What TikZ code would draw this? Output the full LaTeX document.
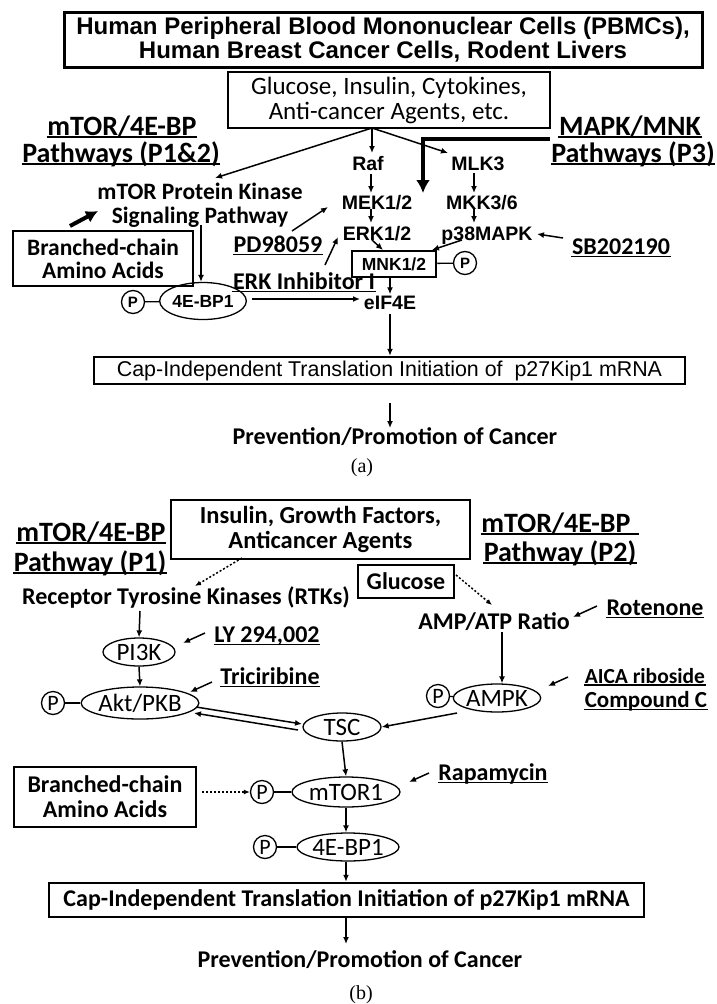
\documentclass[tikz,border=0pt]{standalone}
\usepackage{fontspec}
\usetikzlibrary{shapes.geometric,arrows.meta,calc}
\newfontfamily\arialf{Liberation Sans}
\newfontfamily\calf{Carlito}
\newfontfamily\serf{Liberation Serif}
\newcommand\ulnode[2][2]{\draw[line width=1.3pt] ([yshift=-#1pt]#2.base west) -- ([yshift=-#1pt]#2.base east);}
\begin{document}
\begin{tikzpicture}[x=1pt,y=-1pt,line width=1.5pt,
  arr/.style={-{Latex[length=7pt,width=6pt]}, line width=1.5pt},
  bigarr/.style={-{Latex[length=13pt,width=14pt]}, line width=3.5pt},
  dotarr/.style={-{Latex[length=6pt,width=5pt]}, line width=1.5pt, dash pattern=on 2pt off 2pt},
  AB/.style={inner sep=0, text height=14pt, text depth=0pt, font=\arialf\bfseries\fontsize{19.5}{22}\selectfont},
  CB/.style={inner sep=0, text height=15.5pt, text depth=0pt, font=\calf\bfseries\fontsize{24}{25}\selectfont},
  CT/.style={inner sep=0, text height=18pt, text depth=0pt, font=\calf\bfseries\fontsize{28}{29}\selectfont},
  box/.style={draw, line width=2.5pt, inner sep=0, align=center},
  pc/.style={circle, draw, line width=1.3pt, inner sep=0, minimum size=23pt, font=\arialf\bfseries\fontsize{15}{15}\selectfont},
  pcb/.style={circle, draw, line width=1.3pt, inner sep=0, minimum size=23pt, font=\calf\fontsize{22}{22}\selectfont},
  ellb/.style={ellipse, draw, line width=1.3pt, inner sep=0, font=\calf\fontsize{25}{25}\selectfont},
  lnk/.style={line width=1.3pt}
]
\fill[white] (0,0) rectangle (716,1004);
\useasboundingbox (0,0) rectangle (716,1004);

% ---------------- (a) ----------------
\node[box, line width=3pt, minimum width=638pt, minimum height=55pt, font=\arialf\bfseries\fontsize{24}{24}\selectfont] (top) at (383,40) {Human Peripheral Blood Mononuclear Cells (PBMCs),\\Human Breast Cancer Cells, Rodent Livers};
\node[box, line width=2pt, minimum width=322pt, minimum height=56pt, font=\calf\fontsize{25}{25}\selectfont] (glu) at (389,100) {Glucose, Insulin, Cytokines,\\Anti-cancer Agents, etc.};

\node[CT] (pa1) at (122,126) {mTOR/4E-BP};
\node[CT] (pa2) at (121,153) {Pathways (P1\&2)};
\node[CT] (pa3) at (630,126) {MAPK/MNK};
\node[CT] (pa4) at (633,153) {Pathways (P3)};
\ulnode{pa1}\ulnode{pa2}\ulnode{pa3}\ulnode{pa4}

\node[font=\calf\bfseries\fontsize{23.5}{24}\selectfont, align=center, inner sep=0] (mtor) at (200,205) {mTOR Protein Kinase\\Signaling Pathway};
\node[box, minimum width=180pt, minimum height=55pt, font=\calf\bfseries\fontsize{23.5}{23}\selectfont] (bca) at (103,258.5) {Branched-chain\\Amino Acids};
\node[ellipse, draw, line width=1.3pt, inner sep=0, minimum width=80pt, minimum height=37pt, font=\arialf\bfseries\fontsize{17.5}{17.5}\selectfont] (bp1) at (203,301) {4E-BP1};
\node[pc] (p1) at (133,302) {P};
\draw[lnk] (p1) -- (bp1);

\node[AB] (raf) at (368,163) {Raf};
\node[AB] (mlk) at (478,163) {MLK3};
\node[AB] (mek) at (377,202) {MEK1/2};
\node[AB] (mkk) at (482,202) {MKK3/6};
\node[AB] (erk) at (377,233) {ERK1/2};
\node[AB] (p38) at (487,233) {p38MAPK};
\node[box, minimum width=84pt, minimum height=26pt, font=\arialf\bfseries\fontsize{17.5}{17.5}\selectfont] (mnk) at (394,264) {MNK1/2};
\node[pc] (pm) at (465,263) {P};
\draw[lnk] (mnk) -- (pm);
\node[AB] (eif) at (390,302) {eIF4E};
\node[CB] (pd) at (278,245) {PD98059};
\node[CB] (erki) at (304,282) {ERK Inhibitor I};
\node[CB] (sb) at (621,247) {SB202190};
\ulnode{pd}\ulnode{erki}\ulnode{sb}

\node[box, minimum width=591pt, minimum height=27pt, font=\arialf\fontsize{21.4}{21}\selectfont] (capa) at (389.5,370.5) {Cap-Independent Translation Initiation of\ \ p27Kip1 mRNA};
\node[CB] (preva) at (395,437) {Prevention/Promotion of Cancer};
\node[inner sep=0, font=\serf\fontsize{20}{20}\selectfont] (laba) at (362,468) {(a)};

\coordinate (br) at (372,128);
\coordinate (e1) at (215,178);
\coordinate (e2) at (372,153);
\coordinate (e3) at (448,153);
\draw[arr] (br) -- (e1);
\draw[arr] (br) -- (e2);
\draw[arr] (br) -- (e3);
\coordinate (tk0) at (550,139);
\coordinate (tk1) at (423,139);
\coordinate (tk2) at (423,193);
\draw[bigarr] (tk0) -- (tk1) -- (tk2);
\draw[arr] (raf.south -| 371,0) ++(0,3) -- (371,193);
\draw[arr] (474,173) -- (474,193);
\draw[arr] (371,209) -- (371,223);
\draw[arr] (474,209) -- (474,223);
\coordinate (m1) at (383,250);
\coordinate (m2) at (432,250);
\draw[arr] (372,240) -- (m1);
\draw[arr] (462,240) -- (m2);
\draw[arr] (563,238) -- (537,234);
\draw[arr] (mnk.south -| eif) -- (eif.north);
\draw[arr] (292,231) -- (328,207);
\draw[arr] (325,265) -- (338,237);
\draw[-{Latex[length=12pt,width=13pt]}, line width=4pt] (70,226) -- (98,211);
\draw[arr] (201,225) -- (bp1.north -| 201,0);
\draw[arr] (252,299) -- (360,299);
\draw[arr] (390,314) -- (capa.north -| 390,0);
\draw[arr] (390,403) -- (390,428);

% ---------------- (b) ----------------
\node[CT] (pb1) at (91,532) {mTOR/4E-BP};
\node[CT] (pb2) at (90,562) {Pathway (P1)};
\node[CT] (pb3) at (556,523) {mTOR/4E-BP};
\node[CT] (pb4) at (560,552) {Pathway (P2)};
\ulnode{pb1}\ulnode{pb2}\ulnode{pb4}
\draw[line width=1.3pt] ([yshift=-2pt]pb3.base west) -- ([yshift=-2pt,xshift=8pt]pb3.base east);

\node[box, line width=2pt, minimum width=299pt, minimum height=59pt, font=\calf\bfseries\fontsize{24.5}{25}\selectfont] (ins) at (320.5,529.5) {Insulin, Growth Factors,\\Anticancer Agents};
\node[box, minimum width=96pt, minimum height=33pt, font=\calf\bfseries\fontsize{24}{24}\selectfont] (gluc) at (406,581.5) {Glucose};
\node[CB] (rtk) at (186,597) {Receptor Tyrosine Kinases (RTKs)};
\node[CB] (amp) at (494,622) {AMP/ATP Ratio};
\node[CB] (rot) at (655,608) {Rotenone};
\ulnode{rot}
\node[ellb, minimum width=72pt, minimum height=28pt] (pi3k) at (139,652) {PI3K};
\node[CB] (ly) at (267,635) {LY 294,002};
\node[CB] (tri) at (270,677) {Triciribine};
\ulnode{ly}\ulnode{tri}
\node[ellb, minimum width=106pt, minimum height=32pt] (akt) at (140,703) {Akt/PKB};
\node[pcb] (pakt) at (53,703) {P};
\draw[lnk] (pakt) -- (akt);
\node[ellb, minimum width=78pt, minimum height=28pt] (tsc) at (342,727) {TSC};
\node[ellb, minimum width=64pt, minimum height=28pt] (ampk) at (497,698) {AMPK};
\node[pcb] (pampk) at (438,696) {P};
\draw[lnk] (pampk) -- (ampk);
\node[CB, anchor=west, font=\calf\bfseries\fontsize{21.5}{22}\selectfont, text height=14pt] (aica) at (584,676) {AICA riboside};
\node[CB, anchor=west, font=\calf\bfseries\fontsize{23}{24}\selectfont, text height=15pt] (comp) at (584,700) {Compound C};
\ulnode{aica}\ulnode{comp}
\node[ellb, minimum width=108pt, minimum height=30pt] (mtor1) at (346,792) {mTOR1};
\node[pcb] (pmt) at (262,792) {P};
\draw[lnk] (pmt) -- (mtor1);
\node[CB] (rapa) at (493,773) {Rapamycin};
\ulnode{rapa}
\node[box, minimum width=182pt, minimum height=60pt, font=\calf\bfseries\fontsize{24}{25}\selectfont] (bcb) at (105,797) {Branched-chain\\Amino Acids};
\node[ellb, minimum width=102pt, minimum height=28pt] (bp1b) at (348,847) {4E-BP1};
\node[pcb] (pbp) at (265,847) {P};
\draw[lnk] (pbp) -- (bp1b);
\node[box, minimum width=595pt, minimum height=34pt, font=\calf\bfseries\fontsize{24}{24}\selectfont] (capb) at (346.5,900) {Cap-Independent Translation Initiation of p27Kip1 mRNA};
\node[CB] (prevb) at (360,960) {Prevention/Promotion of Cancer};
\node[inner sep=0, font=\serf\fontsize{20}{20}\selectfont] (labb) at (361,995) {(b)};

\coordinate (d1) at (242,558);
\coordinate (d2) at (195,586);
\draw[dotarr] (d1) -- (d2);
\coordinate (d3) at (456,575);
\coordinate (d4) at (492,605);
\draw[dotarr] (d3) -- (d4);
\draw[arr] (140,611) -- (pi3k.north);
\draw[arr] (205,633) -- (183,643);
\draw[arr] (pi3k.south) -- (akt.north);
\draw[arr] (212,682) -- (190,692);
\draw[arr] (196,707) -- (302,724);
\draw[arr] (298,730) -- (194,713);
\draw[arr] (502,632) -- (ampk.north -| 502,0);
\draw[arr] (568,677) -- (548,686);
\draw[arr] (457,713) -- (tsc.east);
\draw[arr] (597,606) -- (573,617);
\draw[arr] (tsc.south) -- (mtor1.north);
\draw[arr] (429,773) -- (409,782);
\draw[dotarr] (bcb.east |- pmt) ++(5,0) -- (pmt.west);
\draw[arr] (mtor1.south) -- (bp1b.north -| mtor1.south);
\draw[arr] (bp1b.south -| 346,0) -- (capb.north -| 346,0);
\draw[arr] (capb.south -| 346,0) -- (346,944);
\end{tikzpicture}
\end{document}
